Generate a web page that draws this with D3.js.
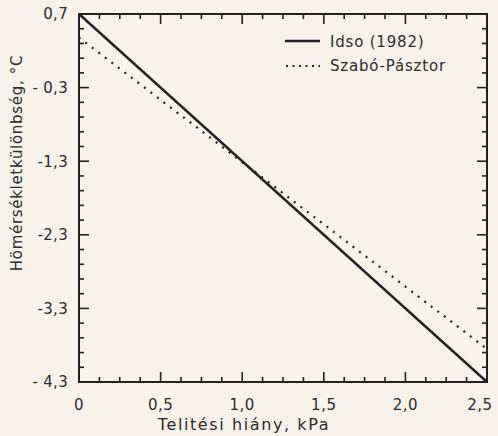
<!DOCTYPE html>
<html>
<head>
<meta charset="utf-8">
<script src="https://cdn.jsdelivr.net/npm/d3@7"></script>
<style>
  html, body { margin: 0; padding: 0; background: #f7f3ea; }
  svg { display: block; }
  text { font-family: "DejaVu Sans", sans-serif; fill: #2b2b2b; }
</style>
</head>
<body>
<svg id="chart" width="498" height="436"></svg>
<script>
// Saturation deficit (kPa) on x, canopy–air temperature difference (°C) on y
const xDomain = [0, 2.5];
const yDomain = [-4.3, 0.7];
const xMajorTicks = [0, 0.5, 1.0, 1.5, 2.0, 2.5];
const xTickLabels = ["0", "0,5", "1,0", "1,5", "2,0", "2,5"];
const yMajorTicks = [0.7, -0.3, -1.3, -2.3, -3.3, -4.3];
const yTickLabels = ["0,7", "- 0,3", "-1,3", "-2,3", "-3,3", "- 4,3"];

// Each line given by its end points at VPD = 0 and VPD = 2.5
const vpd = [0, 2.5];
const idso = [0.7, -4.3];
const szaboPasztor = [0.38, -3.85];

const seriesNames = ["Idso (1982)", "Szabó-Pásztor"];
const xTitle = "Telitési hiány,  kPa";
const yTitle = "Hömérsékletkülönbség, °C";

const svg = d3.select("#chart");
const m = { left: 79, right: 487, top: 14, bottom: 382 };

const x = d3.scaleLinear().domain(xDomain).range([m.left, m.right]);
const y = d3.scaleLinear().domain(yDomain).range([m.bottom, m.top]);

const ink = "#222";

// minor tick positions: every 0.125 kPa and every 0.2 °C
const xMinor = [];
for (let i = 1; i < 20; i++) if (i % 4 !== 0) xMinor.push(i * 0.125);
const yMinor = [];
for (let i = 1; i < 25; i++) if (i % 5 !== 0) yMinor.push(-4.3 + i * 0.2);

// frame
svg.append("rect")
  .attr("x", m.left).attr("y", m.top)
  .attr("width", m.right - m.left).attr("height", m.bottom - m.top)
  .attr("fill", "none").attr("stroke", ink).attr("stroke-width", 2);

// tick labels
svg.selectAll(null).data(xMajorTicks).enter().append("text")
  .attr("x", d => Math.min(x(d), 480)).attr("y", 410)
  .attr("text-anchor", "middle")
  .style("font-size", "15px").style("letter-spacing", "0.5px")
  .text((d, i) => xTickLabels[i]);

svg.selectAll(null).data(yMajorTicks).enter().append("text")
  .attr("x", 68).attr("y", d => y(d))
  .attr("dy", "0.36em")
  .attr("text-anchor", "end")
  .style("font-size", "15px").style("letter-spacing", "0.3px")
  .text((d, i) => yTickLabels[i]);

// axis titles
svg.append("text")
  .attr("x", 244).attr("y", 430)
  .attr("text-anchor", "middle")
  .style("font-size", "16px").style("letter-spacing", "1.6px")
  .text(xTitle);

svg.append("text")
  .attr("transform", "translate(22,163) rotate(-90)")
  .attr("text-anchor", "middle")
  .style("font-size", "15px").style("letter-spacing", "0.7px")
  .text(yTitle);

// lines
const line = d3.line().x(d => x(d[0])).y(d => y(d[1]));
svg.append("path")
  .attr("d", line(vpd.map((v, i) => [v, idso[i]])))
  .attr("fill", "none").attr("stroke", ink).attr("stroke-width", 2.4);

svg.append("path")
  .attr("d", line(vpd.map((v, i) => [v, szaboPasztor[i]])))
  .attr("fill", "none").attr("stroke", ink).attr("stroke-width", 2.2)
  .attr("stroke-dasharray", "2,6.2").attr("stroke-dashoffset", -8);

// legend
svg.append("line").attr("x1", 285).attr("x2", 320).attr("y1", 41).attr("y2", 41)
  .attr("stroke", ink).attr("stroke-width", 2.4);
svg.append("line").attr("x1", 286).attr("x2", 320).attr("y1", 66).attr("y2", 66)
  .attr("stroke", ink).attr("stroke-width", 2).attr("stroke-dasharray", "2,4.5");
svg.append("text").attr("x", 330).attr("y", 47)
  .style("font-size", "15px").style("letter-spacing", "0.8px").text(seriesNames[0]);
svg.append("text").attr("x", 330).attr("y", 71)
  .style("font-size", "15px").style("letter-spacing", "0.8px").text(seriesNames[1]);

// inward tick marks on all four sides
function addTicks(xs, ys, len) {
  xs.forEach(v => {
    svg.append("line").attr("x1", x(v)).attr("x2", x(v))
      .attr("y1", m.bottom).attr("y2", m.bottom - len)
      .attr("stroke", ink).attr("stroke-width", 1.6);
    svg.append("line").attr("x1", x(v)).attr("x2", x(v))
      .attr("y1", m.top).attr("y2", m.top + len)
      .attr("stroke", ink).attr("stroke-width", 1.6);
  });
  ys.forEach(v => {
    svg.append("line").attr("y1", y(v)).attr("y2", y(v))
      .attr("x1", m.left).attr("x2", m.left + len)
      .attr("stroke", ink).attr("stroke-width", 1.6);
    svg.append("line").attr("y1", y(v)).attr("y2", y(v))
      .attr("x1", m.right).attr("x2", m.right - len)
      .attr("stroke", ink).attr("stroke-width", 1.6);
  });
}
addTicks(xMajorTicks, yMajorTicks, 10);
addTicks(xMinor, yMinor, 5);
</script>
</body>
</html>
